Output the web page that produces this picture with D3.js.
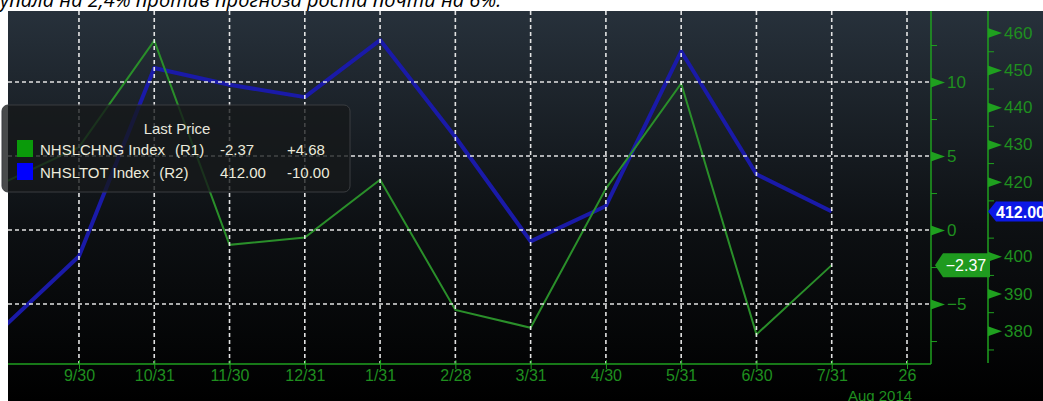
<html>
<head>
<meta charset="utf-8">
<style>
  body { margin: 0; background: #fff; overflow: hidden; }
  text { font-family: "Liberation Sans", Arial, sans-serif; }
</style>
<script src="https://d3js.org/d3.v7.min.js"></script>
</head>
<body>
<div id="chartContainer"></div>
<script>
// monthly points (Bloomberg: NHSLCHNG % change, NHSLTOT thousands)
var dates = ["8/31","9/30","10/31","11/30","12/31","1/31","2/28","3/31","4/30","5/31","6/30","7/31"];
var axisSlots = dates.concat(["8/26"]);
var tickDates = axisSlots.slice(1);
var tickLabels = ["9/30","10/31","11/30","12/31","1/31","2/28","3/31","4/30","5/31","6/30","7/31","26"];
var nhslchng = [3.2, 5.6, 12.8, -1.0, -0.5, 3.4, -5.4, -6.6, 2.8, 9.9, -7.05, -2.37];
var nhsltot = [381, 400, 450.5, 446, 442.7, 458, 432, 404, 413.5, 455, 422, 412];
var r1Ticks = [-5, 0, 5, 10];
var r1Minor = [-7.5, -2.5, 2.5, 7.5, 12.5];
var r2Ticks = [380, 390, 400, 420, 430, 440, 450, 460]; // 410 sits under the last price tag
var r2Minor = [375, 385, 395, 405, 415, 425, 435, 445, 455];
var legendRows = [
  {name: "NHSLCHNG Index", ref: "(R1)", last: "-2.37", chg: "+4.68", color: "#0a9a0a"},
  {name: "NHSLTOT Index", ref: "(R2)", last: "412.00", chg: "-10.00", color: "#0000ff"}
];
var titleText = "упала на 2,4% против прогноза роста почти на 6%.";

var W = 1043, H = 401;
// plot box (note: "top" is reserved on window, so use pX names)
var pL = 8, pT = 11, pR = 931, pB = 364, r2x = 988;

var svg = d3.select("#chartContainer").append("svg")
  .attr("width", W).attr("height", H);

// article text cut off above the chart
svg.append("text")
  .attr("x", 0).attr("y", 7)
  .style("font-family", "'Open Sans', sans-serif")
  .style("font-style", "italic")
  .style("font-size", "20px")
  .attr("fill", "#000")
  .text(titleText);

var defs = svg.append("defs");
var grad = defs.append("linearGradient").attr("id", "bg")
  .attr("x1", 0).attr("y1", 0).attr("x2", 0).attr("y2", 1);
grad.append("stop").attr("offset", "0%").attr("stop-color", "#27313b");
grad.append("stop").attr("offset", "55%").attr("stop-color", "#0d1013");
grad.append("stop").attr("offset", "100%").attr("stop-color", "#000");

defs.append("clipPath").attr("id", "plotClip")
  .append("rect").attr("x", pL).attr("y", pT)
  .attr("width", pR - pL).attr("height", pB - pT);

svg.append("rect")
  .attr("x", pL).attr("y", pT)
  .attr("width", W - pL).attr("height", H - pT)
  .attr("fill", "url(#bg)");

// scales
var x = d3.scalePoint().domain(axisSlots).range([3.7, 907]);
var y1 = d3.scaleLinear().domain([-9.05, 14.8]).range([pB, pT]);
var y2 = d3.scaleLinear().domain([371.1, 465.8]).range([pB, pT]);

// lines
var plot = svg.append("g").attr("clip-path", "url(#plotClip)");

var line1 = d3.line().x(function (d, i) { return x(dates[i]); }).y(function (d) { return y1(d); });
var line2 = d3.line().x(function (d, i) { return x(dates[i]); }).y(function (d) { return y2(d); });

plot.append("path").datum(nhsltot)
  .attr("d", line2)
  .attr("fill", "none")
  .attr("stroke", "#1a1aa8")
  .attr("stroke-width", 4)
  .attr("stroke-linejoin", "round");

plot.append("path").datum(nhslchng)
  .attr("d", line1)
  .attr("fill", "none")
  .attr("stroke", "#2a8f2a")
  .attr("stroke-width", 2);

// dashed grid
var grid = svg.append("g").attr("stroke", "#eeeeee").attr("stroke-width", 1.6)
  .attr("stroke-dasharray", "4,3").attr("opacity", 0.95);
grid.selectAll("line.v").data(tickDates).enter().append("line")
  .attr("x1", function (d) { return x(d); }).attr("x2", function (d) { return x(d); })
  .attr("y1", pT).attr("y2", pB);
grid.selectAll("line.h").data(r1Ticks).enter().append("line")
  .attr("x1", pL).attr("x2", pR)
  .attr("y1", function (d) { return y1(d); }).attr("y2", function (d) { return y1(d); });

var green = "#1fa01f";
var labelGreen = "#1f8f1f";

// x axis
var xAxis = svg.append("g").attr("transform", "translate(0," + pB + ")")
  .call(d3.axisBottom(x).tickValues(tickDates).tickSize(5)
    .tickFormat(function (d, i) { return tickLabels[i]; }));
xAxis.select(".domain").remove();
xAxis.selectAll(".tick line").attr("stroke", green).attr("y1", -4);
xAxis.selectAll(".tick text").attr("fill", labelGreen)
  .attr("y", 6).attr("dy", "0.71em")
  .style("font-size", "16px");
svg.append("line").attr("x1", pL).attr("x2", pR)
  .attr("y1", pB).attr("y2", pB)
  .attr("stroke", green).attr("stroke-width", 1.5);
svg.append("text").attr("x", 880).attr("y", 401)
  .attr("text-anchor", "middle").attr("fill", labelGreen)
  .style("font-size", "15px").text("Aug 2014");

// right axes with Bloomberg style pennant markers
var marker = "M0,-5 L4,-3.5 L14,0 L4,3.5 L0,5 Z";
function rightAxis(xPos, scale, ticks, minor, axisEnd) {
  var g = svg.append("g").attr("transform", "translate(" + xPos + ",0)");
  g.append("line").attr("x1", 0).attr("x2", 0).attr("y1", pT).attr("y2", axisEnd)
    .attr("stroke", green).attr("stroke-width", 1.5);
  var mn = g.append("g").call(d3.axisRight(scale).tickValues(minor).tickSize(6).tickFormat(""));
  mn.select(".domain").remove();
  mn.selectAll(".tick line").attr("stroke", green);
  var mj = g.append("g").call(d3.axisRight(scale).tickValues(ticks).tickSize(0).tickPadding(16));
  mj.select(".domain").remove();
  mj.selectAll(".tick").append("path").attr("d", marker).attr("fill", green);
  mj.selectAll(".tick text").attr("fill", labelGreen).style("font-size", "17px");
}
rightAxis(pR, y1, r1Ticks, r1Minor, pB);
rightAxis(r2x, y2, r2Ticks, r2Minor, pB - 1);

// last value tags
var last1 = nhslchng[nhslchng.length - 1];
var last2 = nhsltot[nhsltot.length - 1];
var ty1 = y1(last1), ty2 = y2(last2);
svg.append("path")
  .attr("d", "M935," + ty1 + " L943," + (ty1 - 12) + " L990," + (ty1 - 12) + " L990," + (ty1 + 12) + " L943," + (ty1 + 12) + " Z")
  .attr("fill", "#1f9a1f");
svg.append("text").attr("x", 966).attr("y", ty1 + 6)
  .attr("text-anchor", "middle").attr("fill", "#fff")
  .style("font-size", "16px").text(d3.format(".2f")(last1));
svg.append("path")
  .attr("d", "M" + r2x + "," + ty2 + " L996," + (ty2 - 10) + " L" + W + "," + (ty2 - 10) + " L" + W + "," + (ty2 + 10) + " L996," + (ty2 + 10) + " Z")
  .attr("fill", "#0c18e6");
svg.append("text").attr("x", 996).attr("y", ty2 + 6)
  .attr("fill", "#fff").style("font-size", "16px").style("font-weight", "bold")
  .text(d3.format(".2f")(last2));

// legend
var lg = svg.append("g");
lg.append("rect").attr("x", 2).attr("y", 105).attr("width", 348).attr("height", 87)
  .attr("rx", 6).attr("fill", "#161819").attr("fill-opacity", 0.78)
  .attr("stroke", "#3a3d40");
lg.append("text").attr("x", 177).attr("y", 134).attr("text-anchor", "middle")
  .attr("fill", "#e6e6dc").style("font-size", "15px").text("Last Price");
var rows = lg.selectAll("g.row").data(legendRows).enter().append("g")
  .attr("transform", function (d, i) { return "translate(0," + (140 + i * 23) + ")"; });
rows.append("rect").attr("x", 17).attr("y", 0).attr("width", 16).attr("height", 17)
  .attr("fill", function (d) { return d.color; });
rows.append("text").attr("x", 40).attr("y", 15).attr("fill", "#ecebdc")
  .style("font-size", "15px").text(function (d) { return d.name; })
  .each(function (d) { d.w = this.getComputedTextLength(); });
rows.append("text").attr("x", function (d) { return 40 + d.w + 10; }).attr("y", 15)
  .attr("fill", "#ecebdc").style("font-size", "15px").text(function (d) { return d.ref; });
rows.append("text").attr("x", 220).attr("y", 15).attr("fill", "#ecebdc")
  .style("font-size", "15px").text(function (d) { return d.last; });
rows.append("text").attr("x", 287).attr("y", 15).attr("fill", "#ecebdc")
  .style("font-size", "15px").text(function (d) { return d.chg; });
</script>
</body>
</html>
